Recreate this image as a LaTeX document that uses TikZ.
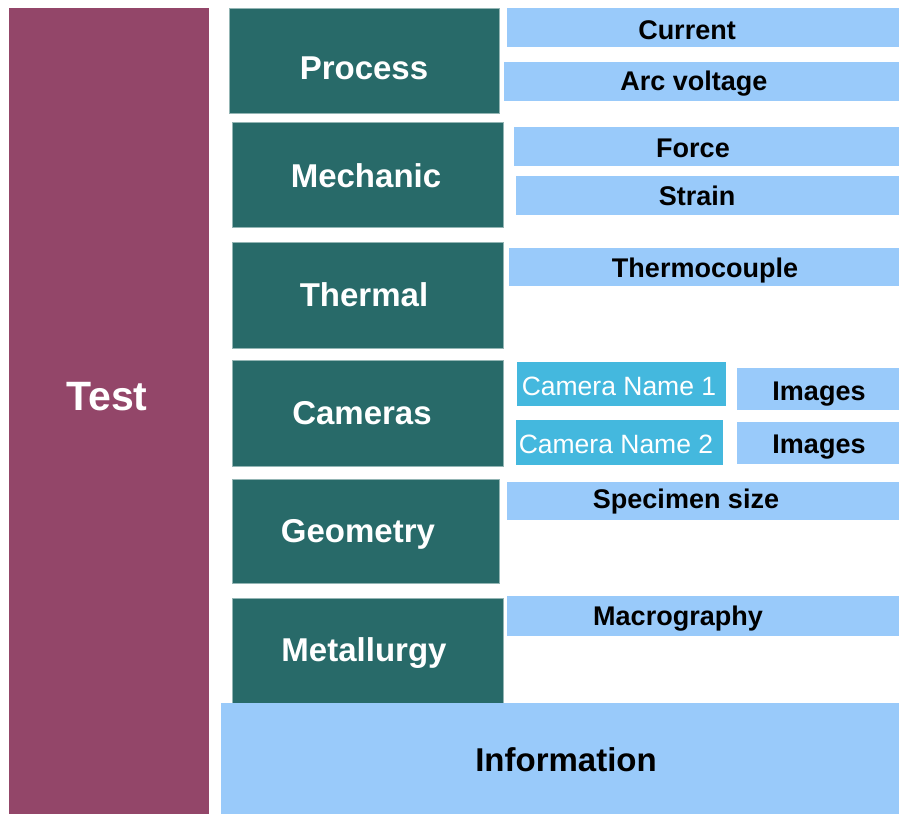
\documentclass[tikz,border=0pt]{standalone}
\usepackage{fontspec}
\setmainfont{Liberation Sans}
\usetikzlibrary{fit}
\definecolor{testc}{HTML}{934669}
\definecolor{grpc}{HTML}{286A69}
\definecolor{itemc}{HTML}{99CAFA}
\definecolor{camc}{HTML}{44B8DE}
\begin{document}
\begin{tikzpicture}[x=1pt,y=-1pt,
blk/.style={inner sep=0pt,outer sep=0pt},
testbox/.style={blk,fill=testc},
grp/.style={blk,fill=grpc,draw=grpc!50!white,line width=0.6pt},
item/.style={blk,fill=itemc},
cam/.style={blk,fill=camc},
lbl/.style={inner sep=0pt,text depth=0pt},
bigw/.style={lbl,text=white,text height=29.4pt,font=\bfseries\fontsize{41}{41}\selectfont},
grpw/.style={lbl,text=white,text height=23.6pt,font=\bfseries\fontsize{33}{33}\selectfont},
itemk/.style={lbl,text height=19.3pt,font=\bfseries\fontsize{27}{27}\selectfont},
camw/.style={lbl,text=white,text height=19pt,font=\fontsize{26.5}{26.5}\selectfont}]
\useasboundingbox (0,0) rectangle (899,814);
% left column
\node[testbox,fit={(9,8)(209,814)}] (test) {};
\node[bigw] (test-t) at (107,396) {Test};
% groups
\node[grp,fit={(229,8)(499,113)}] (proc) {};
\node[grp,fit={(232,122)(503,227)}] (mech) {};
\node[grp,fit={(232,242)(503,348)}] (therm) {};
\node[grp,fit={(232,360)(503,466)}] (cams) {};
\node[grp,fit={(232,479)(499,583)}] (geom) {};
\node[grp,fit={(232,598)(503,703)}] (metal) {};
\node[grpw] (proc-t) at (364,68) {Process};
\node[grpw] (mech-t) at (366,176) {Mechanic};
\node[grpw] (therm-t) at (364,295) {Thermal};
\node[grpw] (cams-t) at (362,413) {Cameras};
\node[grpw] (geom-t) at (358,531) {Geometry};
\node[grpw] (metal-t) at (364,650) {Metallurgy};
% measured values
\node[item,fit={(507,8)(899,47)}] (cur) {};
\node[item,fit={(504,62)(899,101)}] (arc) {};
\node[item,fit={(514,127)(899,166)}] (force) {};
\node[item,fit={(516,176)(899,215)}] (strain) {};
\node[item,fit={(509,248)(899,286)}] (tc) {};
\node[cam,fit={(517,362)(726,406)}] (cn1) {};
\node[cam,fit={(516,420)(723,465)}] (cn2) {};
\node[item,fit={(737,368)(899,410)}] (img1) {};
\node[item,fit={(737,422)(899,464)}] (img2) {};
\node[item,fit={(507,482)(899,520)}] (spec) {};
\node[item,fit={(507,596)(899,636)}] (macro) {};
\node[itemk] (cur-t) at (687,30) {Current};
\node[itemk] (arc-t) at (694,81) {Arc voltage};
\node[itemk] (force-t) at (693,147.5) {Force};
\node[itemk] (strain-t) at (697,196) {Strain};
\node[itemk] (tc-t) at (705,268) {Thermocouple};
\node[camw] (cn1-t) at (619,386) {Camera Name 1};
\node[camw] (cn2-t) at (616,444) {Camera Name 2};
\node[itemk] (img1-t) at (819,391) {Images};
\node[itemk] (img2-t) at (819,444) {Images};
\node[itemk] (spec-t) at (686,499) {Specimen size};
\node[itemk] (macro-t) at (678,616) {Macrography};
% bottom bar
\node[item,fit={(221,703)(899,814)}] (info) {};
\node[grpw,text=black] (info-t) at (566,760) {Information};
\end{tikzpicture}
\end{document}
